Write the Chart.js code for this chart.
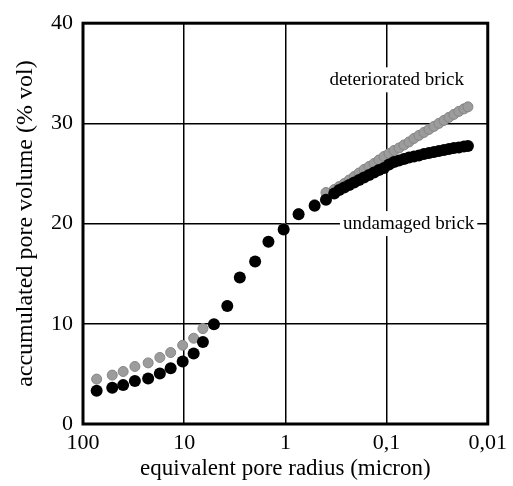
<!DOCTYPE html>
<html>
<head>
<meta charset="utf-8">
<script src="https://cdn.jsdelivr.net/npm/chart.js@4.4.0/dist/chart.umd.min.js"></script>
<style>
  html, body { margin: 0; padding: 0; background: #fff; }
  #wrap { width: 513px; height: 486px; }
</style>
</head>
<body>
<div id="wrap"><canvas id="poreChart" width="513" height="486"></canvas></div>
<script>
// equivalent pore radius (micron), shared by both series
const radius = [73.3, 51.4, 40.1, 30.7, 22.7, 17.4, 13.6, 10.35, 8.06, 6.53,
  5.08, 3.75, 2.82, 1.99, 1.47, 1.04, 0.74, 0.514, 0.397, 0.329,
  0.294, 0.262, 0.234, 0.209, 0.187, 0.167, 0.149, 0.133, 0.119, 0.106,
  0.0945, 0.0844, 0.0753, 0.0673, 0.0600, 0.0536, 0.0479, 0.0427, 0.0381, 0.0340,
  0.0304, 0.0271, 0.0242, 0.0216, 0.0193, 0.0172, 0.0157];

// accumulated pore volume (% vol)
const undamaged = [3.31, 3.61, 3.88, 4.28, 4.55, 5.04, 5.57, 6.24, 7.03, 8.19,
  9.95, 11.77, 14.63, 16.22, 18.18, 19.40, 20.93, 21.79, 22.39, 23.01,
  23.35, 23.6, 23.85, 24.1, 24.35, 24.6, 24.85, 25.1, 25.35, 25.55,
  25.9, 26.15, 26.3, 26.45, 26.6, 26.7, 26.8, 26.95, 27.05, 27.15,
  27.25, 27.35, 27.45, 27.55, 27.6, 27.7, 27.75];

const deteriorated = [4.48, 4.88, 5.24, 5.74, 6.10, 6.64, 7.13, 7.86, 8.56, 9.52,
  9.95, 11.8, 14.6, 16.2, 18.2, 19.5, 21.0, 21.9, 23.1, 23.4,
  23.7, 24.0, 24.35, 24.7, 25.05, 25.4, 25.7, 26.0, 26.35, 26.7,
  27.0, 27.3, 27.55, 27.85, 28.15, 28.5, 28.8, 29.1, 29.4, 29.7,
  30.0, 30.3, 30.6, 30.9, 31.2, 31.45, 31.65];

const xTicks = [100, 10, 1, 0.1, 0.01];
const yTicks = [0, 10, 20, 30, 40];

const serif = "'Liberation Serif', 'DejaVu Serif', serif";

function toPoints(vals) {
  return vals.map(function (v, i) { return { x: radius[i], y: v }; });
}

// frame + the two in-plot labels (white box hides the grid behind the text)
const framePlugin = {
  id: 'frame',
  beforeDatasetsDraw: function (chart) {
    const ctx = chart.ctx;
    const a = chart.chartArea;
    const xs = chart.scales.x, ys = chart.scales.y;
    ctx.save();
    ctx.font = '19px ' + serif;
    ctx.textAlign = 'center';
    ctx.textBaseline = 'middle';
    const labels = [
      { text: 'deteriorated brick', x: xs.getPixelForValue(0.0795), y: ys.getPixelForValue(34.3) },
      { text: 'undamaged brick', x: xs.getPixelForValue(0.0605), y: ys.getPixelForValue(19.95) }
    ];
    labels.forEach(function (l) {
      const w = ctx.measureText(l.text).width;
      ctx.fillStyle = '#fff';
      ctx.fillRect(l.x - w / 2 - 3, l.y - 13, w + 6, 25);
      ctx.fillStyle = '#000';
      ctx.fillText(l.text, l.x, l.y);
    });
    ctx.strokeStyle = '#000';
    ctx.lineWidth = 3;
    ctx.strokeRect(a.left, a.top, a.right - a.left, a.bottom - a.top);
    ctx.restore();
  }
};

new Chart(document.getElementById('poreChart'), {
  type: 'scatter',
  data: {
    datasets: [{
      label: 'undamaged brick',
      data: toPoints(undamaged),
      backgroundColor: '#000',
      borderColor: '#000',
      borderWidth: 0,
      pointRadius: 6,
      order: 0
    }, {
      label: 'deteriorated brick',
      data: toPoints(deteriorated),
      backgroundColor: '#9c9c9c',
      borderColor: '#858585',
      borderWidth: 1,
      pointRadius: 5,
      order: 1
    }]
  },
  options: {
    responsive: false,
    animation: false,
    layout: { padding: { left: 0, top: 22, right: 24, bottom: 0 } },
    plugins: {
      legend: { display: false },
      tooltip: { enabled: false }
    },
    scales: {
      x: {
        type: 'logarithmic',
        reverse: true,
        min: 0.01,
        max: 100,
        afterBuildTicks: function (scale) {
          scale.ticks = xTicks.map(function (v) { return { value: v }; });
        },
        afterFit: function (scale) { scale.height = 62; },
        border: { display: false },
        grid: { color: '#000', lineWidth: 1.5, drawTicks: false },
        ticks: {
          color: '#000',
          padding: 6,
          maxRotation: 0,
          font: { family: serif, size: 22 },
          callback: function (v) { return String(v).replace('.', ','); }
        },
        title: {
          display: true,
          text: 'equivalent pore radius (micron)',
          color: '#000',
          font: { family: serif, size: 23 },
          padding: { top: 0, bottom: 3 }
        }
      },
      y: {
        min: 0,
        max: 40,
        afterBuildTicks: function (scale) {
          scale.ticks = yTicks.map(function (v) { return { value: v }; });
        },
        afterFit: function (scale) { scale.width = 83; },
        border: { display: false },
        grid: { color: '#000', lineWidth: 1.5, drawTicks: false },
        ticks: {
          color: '#000',
          padding: 10,
          font: { family: serif, size: 22 }
        },
        title: {
          display: true,
          text: 'accumulated pore volume (% vol)',
          color: '#000',
          font: { family: serif, size: 24 },
          padding: { top: 11, bottom: 0 }
        }
      }
    }
  },
  plugins: [framePlugin]
});
</script>
</body>
</html>
